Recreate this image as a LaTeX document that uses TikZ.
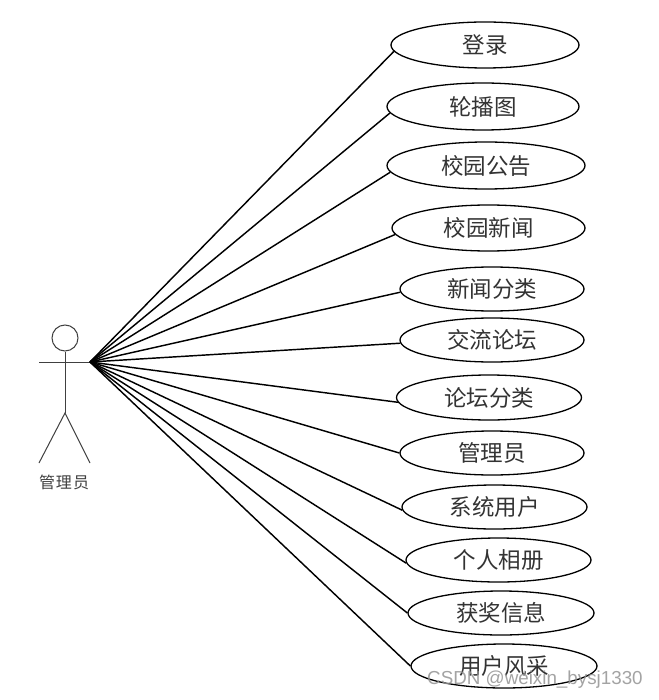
\documentclass[tikz,border=0pt]{standalone}
\usepackage{fontspec}
\setmainfont{Liberation Sans}
\newfontfamily\cjk{Noto Sans CJK SC}
\usetikzlibrary{shapes.geometric}
\tikzset{
  usecase/.style={draw=black,line width=1.3pt,ellipse,inner sep=0pt,font=\cjk\fontsize{22.5}{24}\selectfont,text=black!80},
  assoc/.style={draw=black,line width=1.45pt},
  stick/.style={draw=black!75,line width=1pt},
  actorhead/.style={draw=black!75,line width=1pt,circle,inner sep=0pt,minimum size=26pt},
  actorlabel/.style={font=\cjk\fontsize{16}{18}\selectfont,text=black!75},
  mark text/.style={font=\fontsize{18.8}{21}\selectfont,text=black!42,opacity=.85}
}
\begin{document}
\begin{tikzpicture}[x=1pt,y=-1pt]
\useasboundingbox (0,0) rectangle (658,700);
\fill[white] (0,0) rectangle (658,700);
% use cases
\node[usecase,minimum width=188pt,minimum height=46pt] (u1) at (485,45) {登录};
\node[usecase,minimum width=192pt,minimum height=47pt] (u2) at (483,106.5) {轮播图};
\node[usecase,minimum width=198pt,minimum height=47pt] (u3) at (486,165.5) {校园公告};
\node[usecase,minimum width=193pt,minimum height=46pt] (u4) at (488.5,228) {校园新闻};
\node[usecase,minimum width=184pt,minimum height=44pt] (u5) at (492,289) {新闻分类};
\node[usecase,minimum width=184pt,minimum height=44pt] (u6) at (492,340) {交流论坛};
\node[usecase,minimum width=185pt,minimum height=45pt] (u7) at (489,397.5) {论坛分类};
\node[usecase,minimum width=184pt,minimum height=44pt] (u8) at (492,453) {管理员};
\node[usecase,minimum width=185pt,minimum height=44pt] (u9) at (494.5,507) {系统用户};
\node[usecase,minimum width=185pt,minimum height=44pt] (u10) at (498.5,560) {个人相册};
\node[usecase,minimum width=186pt,minimum height=44pt] (u11) at (501,613) {获奖信息};
\node[usecase,minimum width=186pt,minimum height=44pt] (u12) at (504,666) {用户风采};
% actor
\node[actorhead] (head) at (65,338) {};
\coordinate (hub) at (90,362);
\coordinate (armL) at (39,362);
\coordinate (hip) at (65,413);
\coordinate (footL) at (39,463);
\coordinate (footR) at (90,463);
\draw[stick] (head.south) -- (hip);
\draw[stick] (armL) -- (hub);
\draw[stick] (footL) -- (hip) -- (footR);
\node[actorlabel] (actor) at (64,482) {管\hspace{1pt}理\hspace{1pt}员};
% associations
\foreach \n/\a in {u1/184,u2/184,u3/184,u4/184,u5/182,u6/182,u7/183,u8/180,u9/182,u10/182,u11/180,u12/180}
  \draw[assoc] (hub) -- (\n.\a);
% watermark
\node[mark text,anchor=west,inner sep=0pt] (wm) at (427,680) {CSDN @weixin\_bysj1330};
\end{tikzpicture}
\end{document}
